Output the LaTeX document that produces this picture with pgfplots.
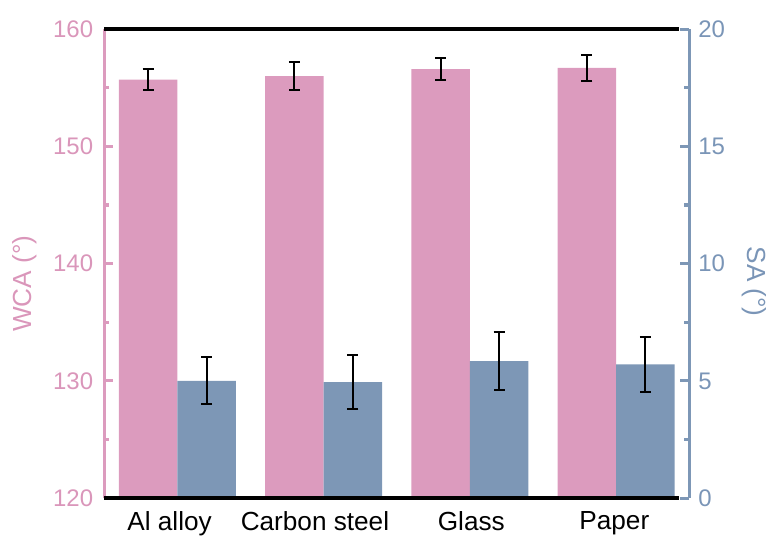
\documentclass[border=0pt]{standalone}
\usepackage{fontspec}
\setmainfont{Liberation Sans}
\usepackage{pgfplots}
\pgfplotsset{compat=1.18}

\definecolor{wcapink}{RGB}{220,155,190}
\definecolor{sablue}{RGB}{125,151,182}
\definecolor{wcatext}{RGB}{218,150,186}
\definecolor{satext}{RGB}{122,149,183}

\newcommand{\labelfont}{\fontsize{13.1}{16}\selectfont}
\newcommand{\numfont}{\fontsize{12}{14}\selectfont}

\begin{document}
\begin{tikzpicture}
\pgfplotsset{
  base/.style={
    width=292.85pt, height=234.7pt, scale only axis,
    xmin=-0.5, xmax=3.5,
    ybar, bar width=0.4,
    tick align=inside,
    major tick length=4.5pt, minor tick length=2.5pt,
    /pgf/number format/assume math mode=true,
    clip mode=individual,
  },
  errs/.style={
    error bars/.cd, y dir=both, y explicit,
    error bar style={draw=black, line width=1pt},
    error mark options={draw=black, rotate=90, mark size=2.75pt, line width=1pt},
  },
}

% Water contact angle (left axis)
\begin{axis}[base,
  ymin=120, ymax=160,
  ytick={120,130,140,150,160}, minor ytick={125,135,145,155},
  axis y line*=left,
  x axis line style={draw=none},
  xtick={-0.053,0.941,2.01,2.988},
  xticklabels={Al alloy, Carbon steel, Glass, Paper},
  xtick style={draw=none},
  xticklabel style={font=\labelfont, text=black, yshift=-3pt},
  y axis line style={draw=wcapink, line width=1.6pt},
  ytick style={draw=wcapink, line width=1.6pt},
  yticklabel style={font=\numfont, text=wcatext, xshift=-2pt},
  every axis y label/.style={at={(axis description cs:-0.135,0.457)}, anchor=center, rotate=90, font=\labelfont, text=wcatext},
  ylabel={WCA (°)},
]
\path (axis description cs:-0.1781,-0.0795) rectangle (axis description cs:1.1417,1.0624);
\addplot[fill=wcapink, draw=none, bar shift=-0.2, errs] coordinates {
  (0,155.7) +- (0,0.9)
  (1,156.0) +- (0,1.2)
  (2,156.6) +- (0,0.95)
  (3,156.7) +- (0,1.1)
};
\end{axis}

% Sliding angle (right axis)
\begin{axis}[base,
  ymin=0, ymax=20,
  ytick={0,5,10,15,20}, minor ytick={2.5,7.5,12.5,17.5},
  axis y line*=right,
  axis x line=none,
  y axis line style={draw=sablue, line width=1.6pt},
  ytick style={draw=sablue, line width=1.6pt},
  yticklabel style={font=\numfont, text=satext, xshift=1pt},
  every axis y label/.style={at={(axis description cs:1.111,0.4616)}, anchor=center, rotate=-90, font=\labelfont, text=satext},
  ylabel={SA (°)},
]
\addplot[fill=sablue, draw=none, bar shift=0.2, errs] coordinates {
  (0,5.0) +- (0,1.0)
  (1,4.95) +- (0,1.15)
  (2,5.84) +- (0,1.25)
  (3,5.7) +- (0,1.17)
};
\draw[black, line width=1.8pt] (axis cs:-0.5,20) -- (axis cs:3.432,20);
\draw[black, line width=1.8pt] (axis cs:-0.5,0) -- (axis cs:3.432,0);
\end{axis}
\end{tikzpicture}
\end{document}
